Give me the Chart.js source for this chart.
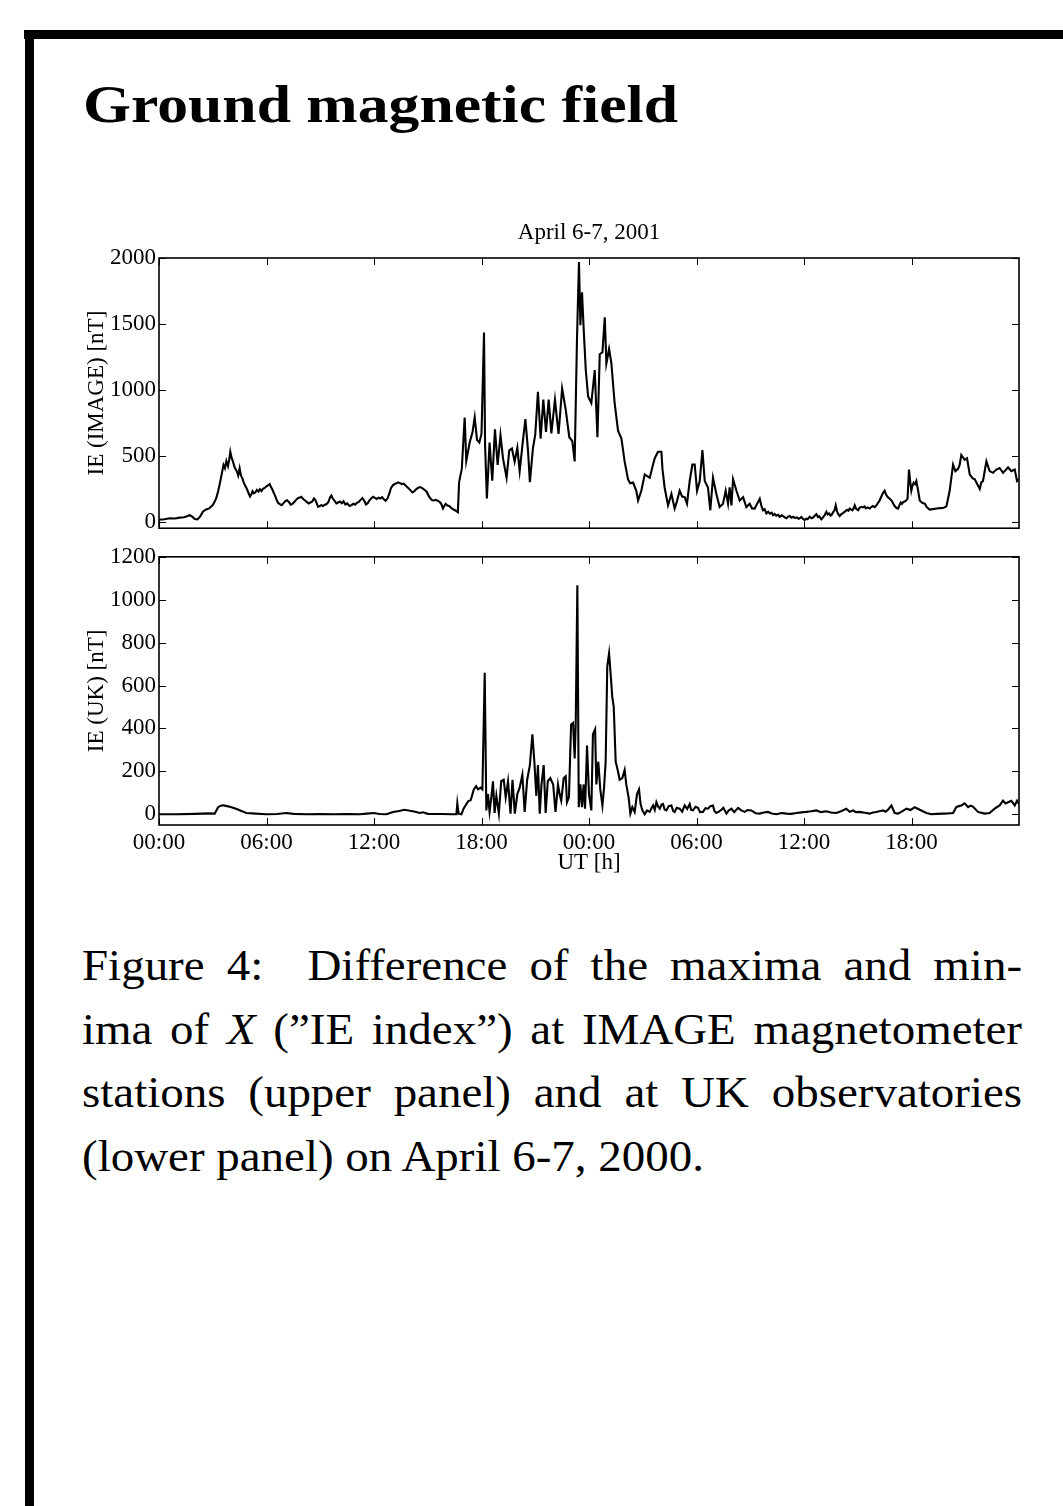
<!DOCTYPE html>
<html>
<head>
<meta charset="utf-8">
<script src="https://cdn.jsdelivr.net/npm/chart.js@4.4.1/dist/chart.umd.min.js"></script>
<style>
  html, body { margin:0; padding:0; background:#fff; overflow:hidden; }
  body { width:1063px; height:1506px; position:relative; }
  .bar { position:absolute; background:#000; }
  #heading { position:absolute; left:83px; top:78px; font-family:"Liberation Serif", serif; font-weight:bold; font-size:53px; line-height:53px; white-space:nowrap; transform-origin:0 0; color:#000; }
  #caption { position:absolute; left:82px; top:934px; width:881px; transform:scaleX(1.067); transform-origin:0 0; font-family:"Liberation Serif", serif; font-size:44px; line-height:63.5px; color:#000; }
  #caption div { text-align:justify; text-align-last:justify; }
  #caption div.last { text-align:left; text-align-last:left; white-space:nowrap; }
  canvas { position:absolute; }
</style>
</head>
<body>
<div class="bar" style="left:24px; top:30px; width:1039px; height:9px;"></div>
<div class="bar" style="left:25px; top:30px; width:9px; height:1476px;"></div>
<div id="heading">Ground magnetic field</div>
<canvas id="c1" width="1023" height="345" style="left:40px; top:200px; width:1023px; height:345px;"></canvas>
<canvas id="c2" width="1023" height="350" style="left:40px; top:540px; width:1023px; height:350px;"></canvas>
<div id="caption">
  <div>Figure 4:&nbsp; Difference of the maxima and min-</div>
  <div>ima of <i>X</i> (”IE index”) at IMAGE magnetometer</div>
  <div>stations (upper panel) and at UK observatories</div>
  <div class="last">(lower panel) on April 6-7, 2000.</div>
</div>
<script>
// ---------------- data ----------------
const chartTitle = 'April 6-7, 2001';
const xTickHours = [0, 6, 12, 18, 24, 30, 36, 42];
const xTickLabels = ['00:00', '06:00', '12:00', '18:00', '00:00', '06:00', '12:00', '18:00'];
const yTicksImage = [0, 500, 1000, 1500, 2000];
const yTicksUK = [0, 200, 400, 600, 800, 1000, 1200];

const hoursImage = [0.0,0.3,0.6,0.9,1.15,1.4,1.6,1.7,1.85,2.0,2.15,2.3,2.45,2.6,2.8,3.0,3.1,3.2,3.3,3.39,3.5,3.6,3.68,3.76,3.85,3.92,3.98,4.05,4.13,4.2,4.28,4.35,4.42,4.5,4.57,4.65,4.72,
4.8,4.9,5.0,5.08,5.15,5.22,5.3,5.38,5.46,5.55,5.63,5.72,5.8,5.9,6.0,6.08,6.18,6.25,6.32,6.4,6.5,6.58,6.66,6.75,6.85,6.95,7.05,7.15,7.25,7.35,7.45,7.55,7.65,7.75,7.85,7.94,8.05,8.15,8.25,8.35,8.45,8.55,8.65,8.72,8.8,8.88,8.96,9.05,9.15,9.25,9.34,9.45,9.55,9.62,9.7,9.8,9.9,10.0,10.1,10.2,10.3,10.4,10.5,10.64,10.75,10.85,10.95,11.05,11.15,11.25,11.35,11.45,11.55,11.65,11.75,11.85,11.95,12.05,12.15,12.25,12.35,12.45,12.55,12.65,12.75,12.85,12.95,13.05,13.15,13.25,13.35,13.45,13.55,13.65,13.75,13.85,13.95,14.05,14.15,14.25,14.35,14.45,14.55,14.65,14.75,14.85,14.95,15.05,15.15,15.25,15.35,15.45,15.55,15.66,15.75,15.85,15.92,16.0,16.1,16.2,16.3,16.4,16.5,16.6,16.68,
16.75,16.9,17.06,17.15,17.34,17.5,17.62,17.75,17.88,18.0,18.14,18.2,18.3,18.45,18.6,18.75,18.9,19.06,19.2,19.4,19.55,19.7,19.85,20.0,20.13,20.3,20.45,20.6,20.7,20.87,21.0,21.15,21.3,21.45,21.6,21.75,21.9,22.1,22.3,22.5,22.7,22.9,23.07,23.2,23.33,23.44,23.52,23.61,23.7,23.82,23.95,24.13,24.32,24.47,24.6,24.75,24.88,24.97,25.12,25.25,25.43,25.62,25.81,25.99,26.18,26.3,26.46,26.64,26.74,26.92,27.11,27.25,27.39,27.55,27.67,27.85,28.04,28.1,28.22,28.41,28.6,28.78,28.9,29.06,29.2,29.34,29.47,29.62,29.77,29.9,30.03,30.18,30.33,30.46,30.64,30.77,30.92,31.11,31.29,31.48,31.63,31.76,31.85,31.95,32.04,32.23,32.41,32.6,32.78,32.97,
33.1,33.25,33.4,33.53,33.62,33.71,33.8,33.9,34.0,34.1,34.2,34.27,34.36,34.45,34.55,34.64,34.75,34.85,34.95,35.02,35.12,35.2,35.3,35.39,35.5,35.6,35.7,35.76,35.85,35.95,36.04,36.12,36.2,36.32,36.42,36.5,36.6,36.69,36.78,36.85,36.97,37.05,37.15,37.25,37.32,37.4,37.48,37.53,37.62,37.7,37.77,37.84,37.9,37.99,38.07,38.15,38.22,38.3,38.4,38.48,38.55,38.62,38.7,38.77,38.83,38.9,38.96,39.02,39.1,39.2,39.29,39.38,39.45,39.55,39.67,39.77,39.85,39.95,40.04,40.12,40.2,40.3,40.4,40.5,40.58,40.65,40.75,40.88,40.97,41.05,41.15,41.25,41.33,41.4,41.47,41.53,41.62,41.7,41.78,41.86,41.93,41.99,42.05,42.12,42.2,42.27,42.35,42.46,42.6,42.74,42.85,43.01,43.2,43.39,43.6,43.8,43.95,
44.13,44.32,44.45,44.6,44.69,44.78,44.97,45.1,45.25,45.4,45.53,45.81,45.9,45.99,46.18,46.36,46.55,46.74,46.92,47.11,47.39,47.57,47.76,47.89,48.0];
const ieImage = [15,18,25,24,30,33,42,50,38,20,17,40,75,90,100,125,150,180,230,285,360,430,405,460,420,470,530,485,455,420,395,380,350,405,350,330,300,
275,250,215,190,205,230,215,222,240,228,245,232,248,255,268,275,285,262,245,220,190,160,140,132,125,140,155,162,150,128,135,148,165,178,182,188,172,160,150,138,145,152,175,165,140,112,118,125,118,128,132,148,185,198,175,158,138,145,152,140,155,130,138,118,125,135,128,142,150,165,178,160,130,140,162,178,188,180,172,182,175,185,170,158,175,210,255,275,285,290,298,292,285,288,275,262,250,235,222,230,245,255,262,258,248,238,225,195,175,162,160,165,158,150,135,100,118,135,122,118,105,95,88,80,72,
300,400,790,460,600,680,790,620,600,665,1435,580,175,600,310,700,430,655,480,333,540,555,455,560,383,600,778,531,300,556,660,985,630,925,680,925,670,925,665,1010,850,640,610,457,1390,1970,1490,1740,1470,1150,950,900,1150,640,1270,1285,1550,1200,1310,1200,900,690,630,455,320,290,296,234,160,234,358,345,333,420,481,530,530,400,259,123,210,99,150,234,190,185,136,308,432,432,234,308,543,308,259,86,333,210,111,136,234,136,259,123,321,234,160,185,111,136,
100,99,140,173,120,86,95,62,75,60,68,49,58,45,52,37,48,40,30,25,38,42,30,37,28,32,22,25,35,20,12,22,18,37,25,30,45,57,35,40,17,30,48,74,55,62,45,49,70,85,123,80,60,42,55,62,70,78,90,82,99,92,85,100,123,100,92,86,105,112,108,115,100,108,99,112,118,110,123,140,155,185,215,234,205,190,178,160,140,120,105,99,125,145,135,148,152,160,175,395,300,234,270,296,285,308,250,160,142,136,110,91,95,99,102,105,116,
234,432,383,400,432,506,469,481,358,330,321,247,300,308,457,383,370,395,407,370,412,383,395,308,321];

const hoursUK = [0,1,2,2.8,3.11,3.3,3.45,3.57,3.8,4.0,4.3,4.6,4.88,5.4,6.0,6.6,7.1,7.5,8.2,9.0,9.8,10.5,11.2,11.6,12.0,12.3,12.7,13.06,13.4,13.7,14.0,14.3,14.55,14.75,15.0,15.7,16.4,16.6,16.65,16.72,16.88,17.0,17.25,17.4,17.57,17.7,17.81,17.95,18.05,18.18,18.27,18.36,18.45,18.55,18.64,18.73,18.83,18.97,19.1,19.24,19.35,19.48,19.62,19.73,19.86,20.0,20.13,20.28,20.41,20.55,20.7,20.84,20.95,21.06,21.15,21.25,21.35,21.47,21.58,21.7,21.84,22.0,22.13,22.27,22.36,22.45,22.59,22.7,22.77,22.88,23.0,23.11,23.2,23.26,23.35,23.43,23.52,23.61,23.7,23.78,23.89,24.0,24.13,24.22,24.34,24.41,24.52,24.63,24.75,24.84,24.93,25.02,25.12,25.21,25.3,25.38,25.49,25.62,25.71,25.86,25.99,26.08,26.21,26.31,26.42,26.55,26.68,26.79,26.88,26.98,27.11,27.24,27.39,27.5,27.58,27.67,27.76,27.86,27.95,28.05,28.13,28.22,28.32,28.45,28.6,28.7,28.78,28.9,29.06,29.2,29.34,29.48,29.62,29.7,29.8,29.95,30.08,30.2,30.36,30.5,30.64,30.78,30.92,31.0,31.11,31.25,31.39,31.5,31.67,31.8,31.95,32.1,32.32,32.5,32.69,32.85,33.06,33.3,33.53,33.75,33.99,34.2,34.46,34.75,35.02,35.3,35.58,35.85,36.13,36.4,36.69,36.95,37.25,37.5,37.8,38.1,38.36,38.55,38.74,38.9,39.11,39.4,39.67,39.85,40.04,40.2,40.41,40.55,40.69,40.88,41.06,41.25,41.5,41.72,41.95,42.18,42.46,42.83,43.11,43.4,43.76,44.05,44.32,44.5,44.65,44.78,44.97,45.16,45.3,45.43,45.71,46.08,46.36,46.64,46.92,47.11,47.25,47.39,47.57,47.76,47.89,48.0];
const ieUK = [0,0,2,4,3,33,40,42,38,34,26,15,6,3,0,1,6,2,0,1,0,1,0,3,6,1,0,11,15,21,16,12,6,9,2,1,0,0,51,3,0,26,60,66,116,131,116,124,116,660,18,94,11,79,154,6,86,3,154,161,79,154,3,161,3,94,124,184,11,161,229,373,245,86,229,3,139,229,6,154,169,139,11,139,94,63,169,177,56,79,418,426,260,426,1067,33,139,33,139,26,320,94,18,373,396,139,245,116,41,124,245,690,750,652,546,501,245,199,161,169,207,139,79,3,33,11,94,116,48,18,0,18,11,30,41,20,56,35,26,45,48,22,18,38,41,15,11,30,26,12,41,25,48,20,18,35,30,10,11,28,26,38,41,15,6,12,21,30,3,18,26,10,30,18,11,20,18,5,3,8,11,4,0,6,3,2,6,9,11,14,18,10,14,8,6,15,26,12,18,10,11,7,3,8,11,14,18,12,21,41,6,3,15,26,20,33,21,6,0,2,3,4,6,33,38,41,51,33,40,36,11,3,6,26,41,63,50,56,63,41,63,48];

// ---------------- helpers ----------------
Chart.defaults.font.family = '"Liberation Serif", "Times New Roman", serif';
Chart.defaults.font.size = 23;
Chart.defaults.color = '#000';

function pts(xs, ys) { return xs.map((h, i) => ({ x: h, y: ys[i] })); }

const frameTicks = {
  id: 'frameTicks',
  afterDatasetsDraw(chart) {
    const { ctx, chartArea: { left, right, top, bottom }, scales: { x, y } } = chart;
    const L = 7;
    ctx.save();
    ctx.strokeStyle = '#000';
    ctx.lineWidth = 1;
    ctx.beginPath();
    x.ticks.forEach(t => {
      const px = Math.round(x.getPixelForValue(t.value)) + 0.5;
      ctx.moveTo(px, bottom); ctx.lineTo(px, bottom - L);
      ctx.moveTo(px, top); ctx.lineTo(px, top + L);
    });
    y.ticks.forEach(t => {
      const py = Math.round(y.getPixelForValue(t.value)) + 0.5;
      ctx.moveTo(left, py); ctx.lineTo(left + L, py);
      ctx.moveTo(right, py); ctx.lineTo(right - L, py);
    });
    ctx.stroke();
    ctx.lineWidth = 1.6;
    ctx.strokeRect(left, top, right - left, bottom - top);
    ctx.restore();
  }
};

function makeChart(id, xs, ys, yMin, yMax, yTicks, yTitle, opts) {
  return new Chart(document.getElementById(id), {
    type: 'line',
    data: { datasets: [{ data: pts(xs, ys), borderColor: '#000', borderWidth: 2.1, pointRadius: 0, tension: 0, fill: false }] },
    options: {
      responsive: false,
      animation: false,
      devicePixelRatio: 1,
      layout: { padding: { left: 0, right: 44, top: opts.padTop, bottom: 0 } },
      plugins: {
        legend: { display: false },
        tooltip: { enabled: false },
        title: opts.title ? {
          display: true, text: opts.title, fullSize: false,
          font: { size: 23, weight: 'normal' }, color: '#000',
          padding: { top: 19.2, bottom: 11.2 }
        } : { display: false }
      },
      scales: {
        x: {
          type: 'linear', min: 0, max: 48,
          grid: { display: false, drawTicks: false },
          border: { display: false },
          afterBuildTicks(scale) { scale.ticks = xTickHours.map(v => ({ value: v })); },
          afterFit(scale) { scale.height = opts.xHeight; },
          ticks: {
            display: opts.showX, padding: 4.2, maxRotation: 0, autoSkip: false,
            callback: (v) => { const i = xTickHours.indexOf(v); return i >= 0 ? xTickLabels[i] : ''; }
          },
          title: opts.showX ? { display: true, text: 'UT [h]', font: { size: 23 }, color: '#000', padding: { top: 0, bottom: 13.2 } } : { display: false }
        },
        y: {
          type: 'linear', min: yMin, max: yMax,
          grid: { display: false, drawTicks: false },
          border: { display: false },
          afterBuildTicks(scale) { scale.ticks = yTicks.map(v => ({ value: v })); },
          afterFit(scale) { scale.width = 119; },
          ticks: { padding: 3, autoSkip: false, callback: (v) => String(v) },
          title: { display: true, text: yTitle, font: { size: 23 }, color: '#000', padding: { top: 43.2, bottom: 0 } }
        }
      }
    },
    plugins: [frameTicks]
  });
}

makeChart('c1', hoursImage, ieImage, -50, 2000, yTicksImage, 'IE (IMAGE) [nT]',
  { padTop: 0, title: chartTitle, xHeight: 10, showX: false });
makeChart('c2', hoursUK, ieUK, -50, 1200, yTicksUK, 'IE (UK) [nT]',
  { padTop: 9, title: null, xHeight: 65, showX: true });

// fit heading width to the reference (≈595px)
const hd = document.getElementById('heading');
const w = hd.getBoundingClientRect().width;
hd.style.transform = 'scaleX(' + (595 / w).toFixed(4) + ')';
</script>
</body>
</html>
